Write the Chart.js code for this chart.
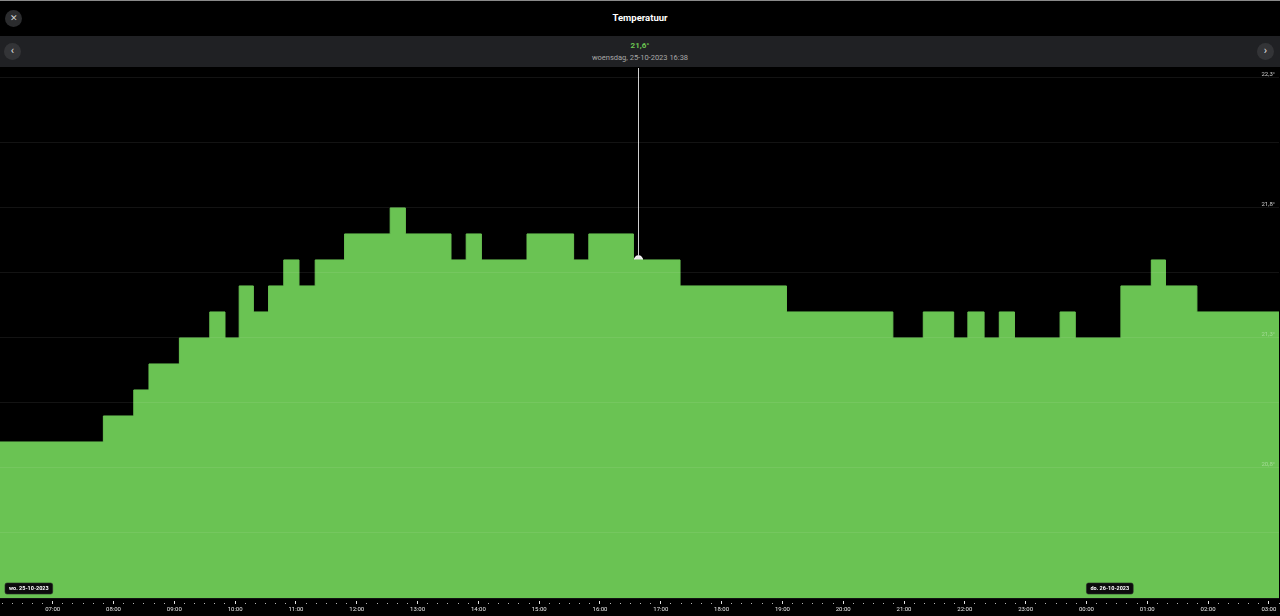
<!DOCTYPE html>
<html><head><meta charset="utf-8">
<script src="https://cdn.jsdelivr.net/npm/chart.js@4.4.0/dist/chart.umd.min.js"></script>
<style>
html,body{margin:0;padding:0;background:#000;width:1280px;height:616px;overflow:hidden;font-family:Roboto,"Noto Sans",sans-serif;}
#c{position:absolute;left:0;top:0;}
#hdr{position:absolute;left:0;top:0;width:1280px;height:36px;background:#000;border-top:1px solid #8a8a8a;box-sizing:border-box;}
#title{position:absolute;left:0;width:1280px;top:0;height:36px;line-height:36px;text-align:center;color:#fff;font-weight:700;font-size:9.5px;}
.btn{position:absolute;width:17px;height:17px;border-radius:50%;background:#2b2c2e;color:#e0e0e0;text-align:center;font-size:11px;line-height:16px;}
#nav{position:absolute;left:0;top:36px;width:1280px;height:31px;background:#202124;}
#val{position:absolute;left:0;width:1280px;top:41px;text-align:center;color:#6cc551;font-weight:700;font-size:8px;line-height:10px}
#date{position:absolute;left:0;width:1280px;top:53px;text-align:center;color:#a8a8a8;font-size:7.5px;line-height:10px}
</style></head>
<body>
<canvas id="c" width="1280" height="616"></canvas>
<div id="hdr"></div>
<div id="title">Temperatuur</div>
<div class="btn" style="left:5px;top:10px;font-size:9px;font-weight:300;color:#cfcfcf;">✕</div>
<div id="nav"></div>
<div class="btn" style="left:4px;top:43px;background:#333437;">‹</div>
<div class="btn" style="left:1257px;top:43px;background:#333437;">›</div>
<div id="val"></div>
<div id="date"></div>
<script>
// ---- data ----
const times  = ['06:08','07:50','08:20','08:35','09:05','09:35','09:50','10:04','10:18','10:33','10:48','11:03','11:19','11:48','12:33','12:48','13:33','13:48','14:03','14:48','15:34','15:49','16:33','17:19','19:04','20:49','21:19','21:49','22:03','22:19','22:34','22:49','23:34','23:49','00:34','01:04','01:18','01:49','03:10'];
const values = [20.9,21.0,21.1,21.2,21.3,21.4,21.3,21.5,21.4,21.5,21.6,21.5,21.6,21.7,21.8,21.7,21.6,21.7,21.6,21.7,21.6,21.7,21.6,21.5,21.4,21.3,21.4,21.3,21.4,21.3,21.4,21.3,21.4,21.3,21.5,21.6,21.5,21.4,21.4];
const xRange = ['06:08','03:10'];
const hourLabels = ['07:00','08:00','09:00','10:00','11:00','12:00','13:00','14:00','15:00','16:00','17:00','18:00','19:00','20:00','21:00','22:00','23:00','00:00','01:00','02:00','03:00'];
const yGrid   = [20.3,20.55,20.8,21.05,21.3,21.55,21.8,22.05,22.3];
const yLabels = [20.8,21.3,21.8,22.3];
const yRange  = [20.3,22.342];
const dayLabels = ['wo. 25-10-2023','do. 26-10-2023'];
const dayStarts = ['06:08','00:00'];
const hoverTime = '16:38';
const hoverValue = 21.6;
const hoverDateText = 'woensdag, 25-10-2023';

const GREEN = '#6ac353';
function toMin(arr){ let day=0, prev=-1; return arr.map(t=>{const [h,m]=t.split(':').map(Number); let v=h*60+m+day*1440; if(prev>=0 && v<prev){day++; v+=1440;} prev=v; return v;}); }
const tm = toMin(times);
const [xMin,xMax] = toMin(xRange);
const hourMin = toMin(hourLabels);
const dayMin = toMin(dayStarts);
const hoverMin = toMin([hoverTime])[0];
const xTicks = [];
for(let v=Math.ceil(xMin/10)*10; v<=xMax; v+=10) xTicks.push(v);
const fmt = v => v.toFixed(1).replace('.',',')+'°';
document.getElementById('val').textContent = fmt(hoverValue);
document.getElementById('date').textContent = hoverDateText+' '+hoverTime;

const pts = tm.map((x,i)=>({x, y:values[i]}));
const isHour = c => c.tick && (c.tick.value % 60 === 0);

const hoverLine = {id:'hoverLine', afterDatasetsDraw(chart){
  const {ctx, chartArea, scales:{x,y}} = chart;
  const px = Math.round(x.getPixelForValue(hoverMin))+0.5;
  const py = y.getPixelForValue(hoverValue);
  ctx.save(); ctx.strokeStyle='#cfcfcf'; ctx.lineWidth=1;
  ctx.beginPath(); ctx.moveTo(px, chartArea.top+1); ctx.lineTo(px, py-4); ctx.stroke(); ctx.restore();
}};
const dayBadges = {id:'dayBadges', afterDraw(chart){
  const {ctx, chartArea, scales:{x}} = chart;
  ctx.save(); ctx.font='bold 5.5px Roboto, sans-serif'; ctx.textBaseline='middle';
  dayLabels.forEach((lab,i)=>{
    const px = Math.max(chartArea.left+5, x.getPixelForValue(dayMin[i]));
    const w = ctx.measureText(lab).width + 8;
    const y0 = chartArea.bottom - 15;
    ctx.fillStyle='#0c0c0c'; ctx.strokeStyle='#2a2a2a'; ctx.lineWidth=0.6;
    ctx.beginPath(); ctx.roundRect(px, y0, w, 11, 2); ctx.fill(); ctx.stroke();
    ctx.fillStyle='#fff'; ctx.fillText(lab, px+4, y0+5.8);
  });
  ctx.restore();
}};

new Chart(document.getElementById('c'), {
  type:'line',
  data:{datasets:[
    {data:pts, stepped:true, fill:'start', backgroundColor:GREEN, borderColor:GREEN, borderWidth:1, pointRadius:0, tension:0},
    {data:[{x:hoverMin, y:hoverValue}], showLine:false, pointRadius:4, pointBackgroundColor:'#e9e9e9', pointBorderColor:'#ffffff', pointBorderWidth:1.2}
  ]},
  options:{
    responsive:false, animation:false, events:[],
    layout:{autoPadding:false, padding:{top:67,left:0,right:0,bottom:0}},
    plugins:{legend:{display:false}, tooltip:{enabled:false}},
    scales:{
      x:{type:'linear', position:'bottom', min:xMin, max:xMax,
        afterBuildTicks: s => { s.ticks = xTicks.map(v=>({value:v})); },
        afterFit: s => { s.height = 18; },
        grid:{display:true, drawOnChartArea:false, drawTicks:true, tickLength:7, tickWidth:1,
          tickColor: c => isHour(c) ? '#e6e6e6' : '#b5b5b5',
          tickBorderDash: c => isHour(c) ? [3,10] : [1,10],
          tickBorderDashOffset: c => isHour(c) ? 10 : 6},
        border:{display:false},
        ticks:{autoSkip:false, maxRotation:0, minRotation:0, padding:1, color:'#e8e8e8',
          font:{size:6, family:'Roboto'},
          callback: v => { const i = hourMin.indexOf(v); return i>=0 ? hourLabels[i] : ''; }}
      },
      y:{type:'linear', position:'right', min:yRange[0], max:yRange[1],
        afterBuildTicks: s => { s.ticks = yGrid.map(v=>({value:v})); },
        afterFit: s => { s.width = 0; },
        grid:{color:'rgba(255,255,255,0.075)', lineWidth:1, drawTicks:false, z:1},
        border:{display:false},
        ticks:{mirror:true, padding:-4, labelOffset:-3, z:1, font:{size:6, family:'Roboto'},
          color: c => (c.tick && c.tick.value < values[values.length-1]) ? 'rgba(255,255,255,0.38)' : '#cfcfcf',
          callback: v => yLabels.some(l=>Math.abs(l-v)<1e-6) ? fmt(v) : ''}
      }
    }
  },
  plugins:[hoverLine, dayBadges]
});
</script>
</body></html>
